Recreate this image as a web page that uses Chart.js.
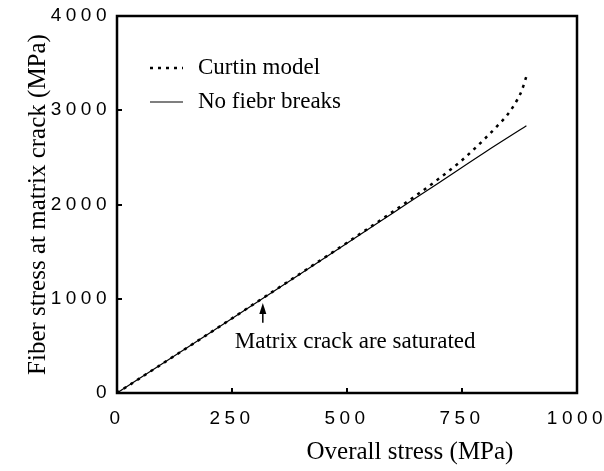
<!DOCTYPE html>
<html>
<head>
<meta charset="utf-8">
<script src="https://cdn.jsdelivr.net/npm/chart.js@4/dist/chart.umd.min.js"></script>
<style>
  body { margin: 0; background: #fff; }
  #wrap { width: 604px; height: 471px; position: relative; }
</style>
</head>
<body>
<div id="wrap"><canvas id="stressChart"></canvas></div>
<script>
// --- Data ---
const curtinX = [0, 100, 200, 300, 400, 500, 600, 650, 700, 750, 800, 830, 850, 870, 880, 890];
const curtinY = [0, 315, 632, 952, 1272, 1595, 1925, 2095, 2275, 2470, 2700, 2850, 2960, 3110, 3210, 3360];
const noBreakX = [0, 100, 200, 300, 400, 500, 600, 700, 800, 890];
const noBreakY = [0, 315, 632, 950, 1268, 1588, 1910, 2232, 2555, 2835];
const xTicks = [0, 250, 500, 750, 1000];
const yTicks = [0, 1000, 2000, 3000, 4000];
const seriesLabels = ['Curtin model', 'No fiebr breaks'];
const noteText = 'Matrix crack are saturated';
const noteAt = { x: 317, tip: 955, tail: 745 };   // arrow position in data units
const xTitle = 'Overall stress (MPa)';
const yTitle = 'Fiber stress at matrix crack (MPa)';

const serif = '"Liberation Serif", "Times New Roman", serif';
const sans = '"Liberation Sans", Arial, sans-serif';
const toPoints = (xs, ys) => xs.map((x, i) => ({ x: x, y: ys[i] }));

// letter-spaced tick labels, like the original
const spacedTicks = {
    id: 'spacedTicks',
    afterLayout(chart) {
        ['x', 'y'].forEach(id => {
            const s = chart.scales[id];
            if (!s || s._spaced) return;
            const orig = s.drawLabels.bind(s);
            s.drawLabels = function (area) {
                const c = this.ctx;
                c.save();
                c.letterSpacing = '4.5px';
                orig(area);
                c.restore();
            };
            s._spaced = true;
        });
    }
};

// frame, legend, titles and note
const decorations = {
    id: 'decorations',
    afterDraw(chart) {
        const { ctx, chartArea: a, scales: { x, y } } = chart;
        ctx.save();
        ctx.strokeStyle = '#000';
        ctx.lineWidth = 2.5;
        ctx.strokeRect(a.left, a.top, a.right - a.left, a.bottom - a.top);

        // legend
        ctx.font = '23px ' + serif;
        ctx.fillStyle = '#000';
        ctx.textBaseline = 'middle';
        chart.data.datasets.forEach((ds, i) => {
            const ly = a.top + 52 + i * 34;
            ctx.beginPath();
            ctx.lineWidth = ds.borderWidth;
            ctx.setLineDash(ds.borderDash || []);
            ctx.moveTo(a.left + 33, ly);
            ctx.lineTo(a.left + 66, ly);
            ctx.stroke();
            ctx.setLineDash([]);
            ctx.fillText(ds.label, a.left + 81, ly);
        });

        // note with arrow
        const ax = x.getPixelForValue(noteAt.x);
        const tipY = y.getPixelForValue(noteAt.tip);
        const tailY = y.getPixelForValue(noteAt.tail);
        ctx.lineWidth = 1.5;
        ctx.beginPath();
        ctx.moveTo(ax, tailY);
        ctx.lineTo(ax, tipY + 8);
        ctx.stroke();
        ctx.beginPath();
        ctx.moveTo(ax, tipY);
        ctx.lineTo(ax - 3.5, tipY + 11);
        ctx.lineTo(ax + 3.5, tipY + 11);
        ctx.closePath();
        ctx.fill();
        ctx.textBaseline = 'alphabetic';
        ctx.textAlign = 'left';
        ctx.fillText(noteText, ax - 28, tailY + 25);

        // axis titles
        ctx.font = '25px ' + serif;
        ctx.textAlign = 'center';
        ctx.textBaseline = 'middle';
        ctx.fillText(xTitle, 410, 452);
        ctx.translate(38, (a.top + a.bottom) / 2);
        ctx.rotate(-Math.PI / 2);
        ctx.fillText(yTitle, 0, 0);
        ctx.restore();
    }
};

const ctx = document.getElementById('stressChart').getContext('2d');
const stressChart = new Chart(ctx, {
    type: 'line',
    data: {
        datasets: [{
            label: seriesLabels[0],
            data: toPoints(curtinX, curtinY),
            borderColor: '#000',
            borderWidth: 2.5,
            borderDash: [3, 5],
            pointRadius: 0,
            cubicInterpolationMode: 'monotone',
            fill: false
        }, {
            label: seriesLabels[1],
            data: toPoints(noBreakX, noBreakY),
            borderColor: '#000',
            borderWidth: 1.2,
            pointRadius: 0,
            cubicInterpolationMode: 'monotone',
            fill: false
        }]
    },
    options: {
        responsive: true,
        maintainAspectRatio: false,
        animation: false,
        layout: { padding: { top: 16, right: 27, left: 0, bottom: 0 } },
        plugins: { legend: { display: false }, tooltip: { enabled: false } },
        scales: {
            x: {
                type: 'linear',
                min: 0, max: 1000,
                afterFit: s => { s.height = 78; s.paddingLeft = 0; s.paddingRight = 0; },
                afterBuildTicks: s => { s.ticks = xTicks.map(v => ({ value: v })); },
                border: { display: false },
                grid: { drawOnChartArea: false, tickLength: -5, lineWidth: 2, color: '#000' },
                ticks: {
                    padding: 19,
                    color: '#000',
                    maxRotation: 0,
                    callback: v => String(v),
                    font: { family: sans, size: 19 }
                }
            },
            y: {
                min: 0, max: 4000,
                afterFit: s => { s.width = 117; s.paddingTop = 0; s.paddingBottom = 0; },
                afterBuildTicks: s => { s.ticks = yTicks.map(v => ({ value: v })); },
                border: { display: false },
                grid: { drawOnChartArea: false, tickLength: -5, lineWidth: 2, color: '#000' },
                ticks: {
                    padding: 11,
                    color: '#000',
                    callback: v => String(v),
                    font: { family: sans, size: 19 }
                }
            }
        }
    },
    plugins: [spacedTicks, decorations]
});
</script>
</body>
</html>
